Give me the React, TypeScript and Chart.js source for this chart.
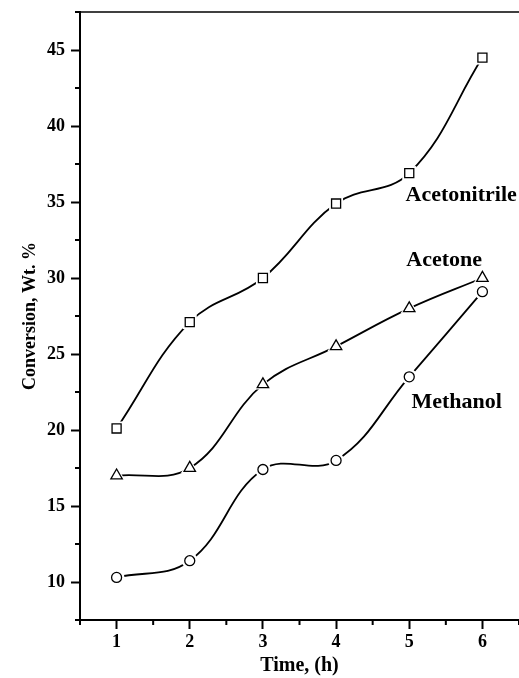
import React, { useEffect, useRef } from 'react';
import { Chart, registerables } from 'chart.js';

Chart.register(...registerables);

// ---- data ----
const times = [1, 2, 3, 4, 5, 6];
const acetonitrile = [20.1, 27.1, 30.0, 34.9, 36.9, 44.5];
const acetone = [17.0, 17.5, 23.0, 25.5, 28.0, 30.0];
const methanol = [10.3, 11.4, 17.4, 18.0, 23.5, 29.1];
const seriesNames = ['Acetonitrile', 'Acetone', 'Methanol'];
// label anchors in data units (left edge x, baseline y)
const labelX = [4.95, 4.96, 5.03];
const labelY = [35.05, 30.76, 21.46];
const xTicks = [1, 2, 3, 4, 5, 6];
const yTicks = [10, 15, 20, 25, 30, 35, 40, 45];
const xMinorTicks = [0.5, 1.5, 2.5, 3.5, 4.5, 5.5, 6.5];
const yMinorTicks = [7.5, 12.5, 17.5, 22.5, 27.5, 32.5, 37.5, 42.5, 47.5];

const FONT = '"Liberation Serif", "Times New Roman", serif';

export default function App() {
  const ref = useRef<HTMLCanvasElement>(null);

  useEffect(() => {
    if (!ref.current) return;
    const seriesValues = [acetonitrile, acetone, methanol];
    const styles = ['rect', 'triangle', 'circle'];
    const radii = [6.4, 6.6, 5];
    const haloExtra = [3.5, 3.5, 3];

    const datasets: any[] = [];
    seriesValues.forEach((vals, i) => {
      const pts = times.map((t, j) => ({ x: t, y: vals[j] }));
      datasets.push({
        label: seriesNames[i] + ' line',
        data: pts,
        showLine: true,
        borderColor: '#000',
        borderWidth: 1.8,
        tension: 0.4,
        pointRadius: 0,
        fill: false,
        order: 3,
      });
      datasets.push({
        label: seriesNames[i] + ' halo',
        data: pts,
        showLine: false,
        pointStyle: styles[i],
        pointRadius: radii[i] + haloExtra[i],
        pointBackgroundColor: '#fff',
        pointBorderColor: '#fff',
        pointBorderWidth: 0,
        order: 2,
      });
      datasets.push({
        label: seriesNames[i],
        data: pts,
        showLine: false,
        pointStyle: styles[i],
        pointRadius: radii[i],
        pointBackgroundColor: '#fff',
        pointBorderColor: '#000',
        pointBorderWidth: 1.3,
        order: 1,
      });
    });

    const decor = {
      id: 'decor',
      afterDraw(chart: any) {
        const { ctx, chartArea, scales } = chart;
        const xs = scales.x;
        const ys = scales.y;
        ctx.save();
        ctx.strokeStyle = '#000';
        // top border
        ctx.lineWidth = 1.5;
        ctx.beginPath();
        ctx.moveTo(chartArea.left, chartArea.top);
        ctx.lineTo(chartArea.right, chartArea.top);
        ctx.stroke();
        // minor ticks
        ctx.lineWidth = 2;
        ctx.beginPath();
        xMinorTicks.forEach((v) => {
          const px = xs.getPixelForValue(v);
          ctx.moveTo(px, chartArea.bottom);
          ctx.lineTo(px, chartArea.bottom + 5);
        });
        yMinorTicks.forEach((v) => {
          const py = ys.getPixelForValue(v);
          ctx.moveTo(chartArea.left, py);
          ctx.lineTo(chartArea.left - 5, py);
        });
        ctx.stroke();
        // series labels
        ctx.fillStyle = '#000';
        ctx.font = `bold 22px ${FONT}`;
        ctx.textAlign = 'left';
        ctx.textBaseline = 'alphabetic';
        seriesNames.forEach((name, i) => {
          ctx.fillText(name, xs.getPixelForValue(labelX[i]), ys.getPixelForValue(labelY[i]));
        });
        ctx.restore();
      },
    };

    const chart = new Chart(ref.current, {
      type: 'line',
      data: { datasets },
      options: {
        animation: false,
        responsive: false,
        maintainAspectRatio: false,
        events: [],
        layout: { autoPadding: false, padding: { top: 12, right: 0, left: 0, bottom: 0 } },
        plugins: {
          legend: { display: false },
          tooltip: { enabled: false },
        },
        scales: {
          x: {
            type: 'linear',
            min: 0.5,
            max: 6.5,
            afterBuildTicks: (scale: any) => {
              scale.ticks = xTicks.map((v) => ({ value: v }));
            },
            afterFit: (scale: any) => {
              scale.height = 58;
              scale.paddingLeft = 0;
              scale.paddingRight = 0;
            },
            border: { display: true, color: '#000', width: 2 },
            grid: {
              drawOnChartArea: false,
              drawTicks: true,
              tickLength: 9,
              tickWidth: 2,
              tickColor: '#000',
            },
            ticks: {
              color: '#000',
              padding: 3,
              maxRotation: 0,
              autoSkip: false,
              font: { family: FONT, size: 18, weight: 'bold' },
              callback: (v: any) => String(v),
            },
            title: {
              display: true,
              text: 'Time, (h)',
              color: '#000',
              padding: { top: 0, bottom: 0 },
              font: { family: FONT, size: 20, weight: 'bold' },
            },
          },
          y: {
            type: 'linear',
            min: 7.5,
            max: 47.5,
            afterBuildTicks: (scale: any) => {
              scale.ticks = yTicks.map((v) => ({ value: v }));
            },
            afterFit: (scale: any) => {
              scale.width = 80;
              scale.paddingTop = 0;
              scale.paddingBottom = 0;
            },
            border: { display: true, color: '#000', width: 2 },
            grid: {
              drawOnChartArea: false,
              drawTicks: true,
              tickLength: 9,
              tickWidth: 2,
              tickColor: '#000',
            },
            ticks: {
              color: '#000',
              padding: 6,
              autoSkip: false,
              font: { family: FONT, size: 18, weight: 'bold' },
              callback: (v: any) => String(v),
            },
            title: {
              display: true,
              text: 'Conversion, Wt. %',
              color: '#000',
              padding: { top: 20, bottom: 0 },
              font: { family: FONT, size: 18, weight: 'bold' },
            },
          },
        },
      },
      plugins: [decor],
    } as any);

    return () => chart.destroy();
  }, []);

  return (
    <div style={{ width: 519, height: 678 }}>
      <style>{`body{margin:0}`}</style>
      <canvas ref={ref} width={519} height={678} style={{ display: 'block' }} />
    </div>
  );
}
